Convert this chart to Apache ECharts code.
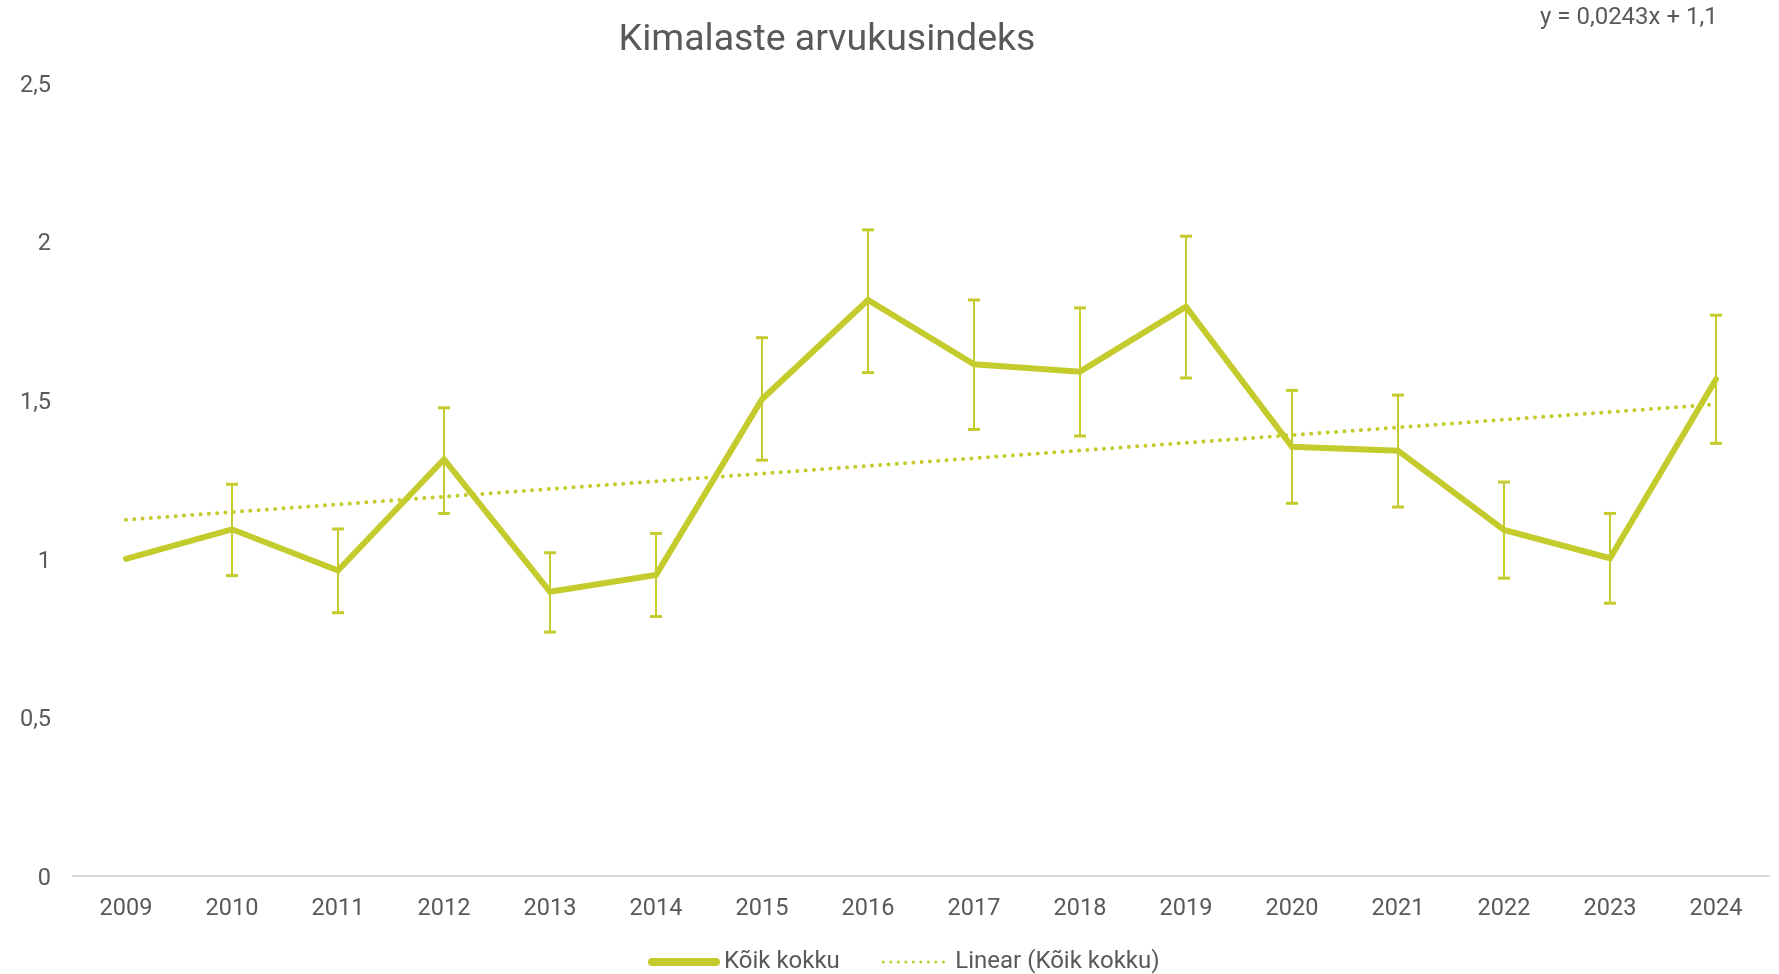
<!DOCTYPE html>
<html>
<head>
<meta charset="utf-8">
<script src="https://cdn.jsdelivr.net/npm/echarts@6/dist/echarts.min.js"></script>
<style>
  html, body { margin: 0; padding: 0; background: #fff; }
  #main { width: 1779px; height: 974px; }
</style>
</head>
<body>
<div id="main"></div>
<script>
// aastad
var years = ['2009', '2010', '2011', '2012', '2013', '2014', '2015', '2016',
  '2017', '2018', '2019', '2020', '2021', '2022', '2023', '2024'];
// Kõik kokku
var values = [1.0, 1.093, 0.963, 1.314, 0.896, 0.949, 1.503, 1.816,
  1.613, 1.590, 1.795, 1.353, 1.341, 1.091, 1.002, 1.566];
// vearibad
var errLow = [null, 0.947, 0.830, 1.143, 0.769, 0.818, 1.311, 1.587,
  1.408, 1.387, 1.570, 1.175, 1.163, 0.939, 0.860, 1.364];
var errHigh = [null, 1.235, 1.094, 1.476, 1.019, 1.080, 1.697, 2.037,
  1.816, 1.791, 2.017, 1.531, 1.516, 1.242, 1.143, 1.768];
// lineaarne trend (otspunktid)
var trendYears = ['2009', '2024'];
var trendValues = [1.123, 1.487];
var yTicks = [0, 0.5, 1, 1.5, 2, 2.5];

var green = '#C4CB2C';
var textColor = '#595959';
var font = 'Roboto';

var myChart = echarts.init(document.getElementById('main'));

var errData = [];
years.forEach(function (y, i) {
  if (errLow[i] != null) errData.push([i, errLow[i], errHigh[i]]);
});

myChart.setOption({
  animation: false,
  textStyle: { fontFamily: font },
  title: {
    text: 'Kimalaste arvukusindeks',
    left: 822,
    top: 17,
    textAlign: 'center',
    textStyle: { fontFamily: font, fontSize: 37.5, fontWeight: 'normal', color: textColor }
  },
  graphic: [{
    type: 'text',
    left: 1540,
    top: 6,
    style: { text: 'y = 0,0243x + 1,1', font: '24px Roboto', fill: textColor }
  }],
  legend: {
    data: [
      {
        name: 'Kõik kokku',
        itemStyle: { opacity: 0 },
        lineStyle: { width: 8, cap: 'round' }
      },
      {
        name: 'Linear (Kõik kokku)',
        itemStyle: { opacity: 0 },
        lineStyle: { width: 3, type: [0.01, 7.5], cap: 'round' }
      }
    ],
    left: 643,
    top: 945,
    itemWidth: 64,
    itemHeight: 14,
    itemGap: 42,
    textStyle: { fontFamily: font, fontSize: 24, color: textColor, padding: [0, 0, 0, 3] }
  },
  grid: { left: 73, right: 10, top: 83, bottom: 98 },
  xAxis: {
    type: 'category',
    data: years,
    boundaryGap: true,
    axisLine: { lineStyle: { color: '#D9D9D9', width: 2 } },
    axisTick: { show: false },
    axisLabel: { color: textColor, fontSize: 23.5, fontFamily: font, margin: 21 }
  },
  yAxis: {
    type: 'value',
    min: yTicks[0],
    max: yTicks[yTicks.length - 1],
    interval: 0.5,
    splitLine: { show: false },
    axisLine: { show: false },
    axisTick: { show: false },
    axisLabel: {
      color: textColor, fontSize: 23.5, fontFamily: font, margin: 22,
      formatter: function (v) { return '{v|' + String(v).replace('.', ',') + '}'; },
      rich: {
        v: { color: textColor, fontSize: 23.5, fontFamily: font, padding: [6, 0, 0, 0] }
      }
    }
  },
  series: [
    {
      name: 'Vearibad',
      type: 'custom',
      z: 1,
      data: errData,
      renderItem: function (params, api) {
        var x = api.coord([api.value(0), api.value(1)])[0];
        var lo = api.coord([api.value(0), api.value(1)])[1];
        var hi = api.coord([api.value(0), api.value(2)])[1];
        var st = { stroke: green, lineWidth: 2 };
        var cap = { stroke: green, lineWidth: 3 };
        return {
          type: 'group',
          children: [
            { type: 'line', shape: { x1: x, y1: lo, x2: x, y2: hi }, style: st },
            { type: 'line', shape: { x1: x - 6, y1: lo, x2: x + 6, y2: lo }, style: cap },
            { type: 'line', shape: { x1: x - 6, y1: hi, x2: x + 6, y2: hi }, style: cap }
          ]
        };
      }
    },
    {
      name: 'Kõik kokku',
      type: 'line',
      z: 3,
      data: values,
      symbol: 'none',
      lineStyle: { color: green, width: 6, cap: 'round', join: 'miter' },
      itemStyle: { color: green }
    },
    {
      name: 'Linear (Kõik kokku)',
      type: 'line',
      z: 4,
      data: trendYears.map(function (y, i) { return [y, trendValues[i]]; }),
      symbol: 'none',
      lineStyle: { color: green, width: 4, type: [0.01, 8.3], cap: 'round' },
      itemStyle: { color: green }
    }
  ]
});
</script>
</body>
</html>
